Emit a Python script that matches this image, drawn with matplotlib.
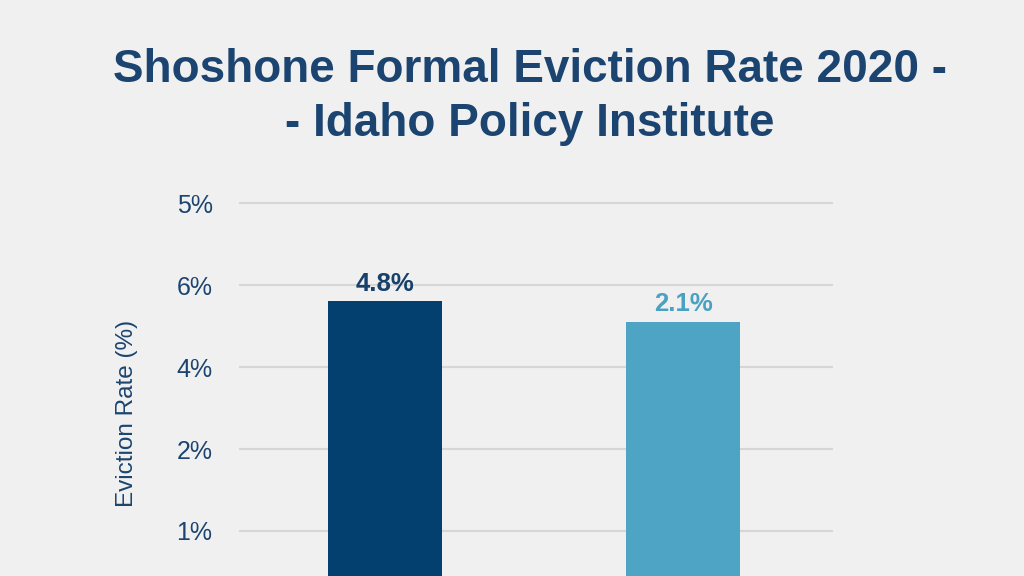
import matplotlib
matplotlib.use("Agg")
import matplotlib.pyplot as plt

# data (y in grid-line positions, 1 = lowest line)
groups = ["Shoshone", "Idaho"]
bar_tops = [3.80, 3.55]
bar_labels = ["4.8%", "2.1%"]
tick_pos = [1, 2, 3, 4, 5]
tick_labels = ["1%", "2%", "4%", "6%", "5%"]

bg = "#f0f0f0"
navy = "#1b4470"
colors = ["#033f6f", "#4ea4c4"]
label_colors = ["#17406b", "#4aa1c1"]

plt.rcParams["font.family"] = ["Liberation Sans", "DejaVu Sans"]

fig = plt.figure(figsize=(10.24, 5.76), dpi=100, facecolor=bg)
ax = fig.add_axes([239 / 1024, 0, (833 - 239) / 1024, 386 / 576], facecolor=bg)

x = range(len(groups))
bars = ax.bar(x, bar_tops, width=0.383, color=colors, zorder=3)
for b, lab, c in zip(bars, bar_labels, label_colors):
    ax.annotate(lab, (b.get_x() + b.get_width() / 2, b.get_height()),
                xytext=(0, 4), textcoords="offset points", ha="center", va="bottom",
                fontsize=18.5, fontweight="bold", color=c)

ax.set_xlim(-0.49, 1.503)
ax.set_ylim(0.451, 5.159)
ax.set_yticks(tick_pos)
ax.set_yticklabels(tick_labels)
ax.set_xticks([])
ax.tick_params(axis="y", length=0, pad=19, labelsize=18, labelcolor=navy)
ax.yaxis.grid(True, color="#d6d6d6", linewidth=1.5, zorder=0)
for s in ax.spines.values():
    s.set_visible(False)

fig.text(127 / 1024, 1 - 413 / 576, "Eviction Rate (%)", rotation=90, ha="center", va="center",
         fontsize=17.5, color=navy)
fig.text(530 / 1024, 1 - 97 / 576, "Shoshone Formal Eviction Rate 2020 -\n- Idaho Policy Institute",
         ha="center", va="center", fontsize=33, fontweight="bold", color=navy, linespacing=1.3)

fig.savefig("out.png", dpi=100, facecolor=bg)
